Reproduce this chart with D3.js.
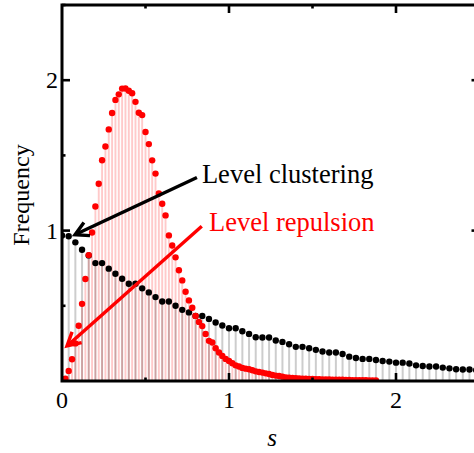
<!DOCTYPE html>
<html>
<head>
<meta charset="utf-8">
<script src="https://cdn.jsdelivr.net/npm/d3@7"></script>
<style>
  html, body { margin: 0; padding: 0; background: #fff; overflow: hidden; }
  svg { display: block; }
</style>
</head>
<body>
<svg id="chart" width="474" height="453"></svg>
<script>
// Nearest-neighbour spacing histogram, uncorrelated levels (black, bin 0.04)
const sPoisson = [0.00,0.04,0.08,0.12,0.16,0.20,0.24,0.28,0.32,0.36,0.40,0.44,0.48,0.52,0.56,0.60,0.64,0.68,0.72,0.76,
  0.80,0.84,0.88,0.92,0.96,1.00,1.04,1.08,1.12,1.16,1.20,1.24,1.28,1.32,1.36,1.40,1.44,1.48,1.52,1.56,1.60,1.64,
  1.68,1.72,1.76,1.80,1.84,1.88,1.92,1.96,2.00,2.04,2.08,2.12,2.16,2.20,2.24,2.28,2.32,2.36,2.40,2.44,2.48];
const freqPoisson = [0.967,0.962,0.922,0.873,0.835,0.784,0.784,0.747,0.713,0.680,0.647,0.647,0.616,0.589,0.558,0.529,0.529,0.500,0.473,0.456,
  0.433,0.433,0.413,0.389,0.369,0.351,0.351,0.331,0.313,0.291,0.289,0.289,0.269,0.260,0.244,0.227,0.227,0.218,0.207,0.196,0.189,0.189,
  0.180,0.162,0.153,0.147,0.147,0.140,0.133,0.129,0.122,0.122,0.116,0.104,0.100,0.096,0.096,0.089,0.084,0.078,0.076,0.076,0.072];

// Spacing histogram, correlated levels (red, bin 0.02)
const sRepel = [0.02,0.04,0.06,0.08,0.10,0.12,0.14,0.16,0.18,0.20,0.22,0.24,0.26,0.28,0.30,0.32,0.34,0.36,0.38,0.40,
  0.42,0.44,0.46,0.48,0.50,0.52,0.54,0.56,0.58,0.60,0.62,0.64,0.66,0.68,0.70,0.72,0.74,0.76,0.78,0.80,
  0.82,0.84,0.86,0.88,0.90,0.92,0.94,0.96,0.98,1.00,1.02,1.04,1.06,1.08,1.10,1.12,1.14,1.16,1.18,1.20,
  1.22,1.24,1.26,1.28,1.30,1.32,1.34,1.36,1.38,1.40,1.42,1.44,1.46,1.48,1.50,1.52,1.54,1.56,1.58,1.60,
  1.62,1.64,1.66,1.68,1.70,1.72,1.74,1.76,1.78,1.80,1.82,1.84,1.86,1.88];
const freqRepel = [0.015,0.067,0.145,0.250,0.367,0.513,0.678,0.837,0.987,1.160,1.312,1.468,1.559,1.673,1.782,1.869,1.906,1.944,1.945,1.930,
  1.913,1.856,1.784,1.768,1.656,1.575,1.467,1.379,1.247,1.179,1.101,0.968,0.901,0.822,0.736,0.669,0.593,0.536,0.487,0.433,
  0.393,0.365,0.313,0.267,0.256,0.218,0.189,0.167,0.147,0.133,0.118,0.104,0.096,0.087,0.082,0.078,0.071,0.064,0.060,0.056,
  0.051,0.047,0.040,0.036,0.033,0.029,0.024,0.022,0.020,0.018,0.017,0.016,0.015,0.014,0.013,0.012,0.012,0.011,0.010,0.010,
  0.009,0.009,0.008,0.008,0.007,0.007,0.006,0.006,0.006,0.005,0.005,0.004,0.004,0.003];

const xMajor = [0, 1, 2];
const xMinor = [0.5, 1.5, 2.5];
const yMajor = [1, 2];
const yMinor = [0.5, 1.5, 2.5];
const xTitle = "s";
const yTitle = "Frequency";

// Annotations: label, colour, text anchor (s, freq), arrow tail and tip (s, freq)
const notes = [
  { label: "Level clustering", color: "#000", at: [0.838, 1.317], from: [0.808, 1.353], to: [0.078, 0.973] },
  { label: "Level repulsion",  color: "#f00", at: [0.880, 0.997], from: [0.837, 1.029], to: [0.030, 0.233] }
];

const FONT = "'Liberation Serif', 'DejaVu Serif', serif";

const svg = d3.select("#chart");
const plotL = 62, plotR = 479.5, plotT = 5, plotB = 381;

const x = d3.scaleLinear().domain([0, 2.5]).range([plotL, plotR]);
const y = d3.scaleLinear().domain([0, 2.5]).range([plotB, plotT]);

svg.append("defs").append("clipPath").attr("id", "plotclip")
  .append("rect").attr("x", plotL).attr("y", plotT).attr("width", plotR - plotL).attr("height", plotB - plotT);

const plot = svg.append("g").attr("clip-path", "url(#plotclip)");

// Stems
const stems = plot.append("g").style("isolation", "isolate");
stems.selectAll("line.repel").data(sRepel).join("line")
  .attr("class", "repel")
  .attr("x1", d => x(d)).attr("x2", d => x(d))
  .attr("y1", y(0)).attr("y2", (d, i) => y(freqRepel[i]))
  .attr("stroke", "#ffcaca").attr("stroke-width", 1.9);
stems.selectAll("line.poisson").data(sPoisson).join("line")
  .attr("class", "poisson")
  .attr("x1", d => x(d)).attr("x2", d => x(d))
  .attr("y1", y(0)).attr("y2", (d, i) => y(freqPoisson[i]))
  .attr("stroke", "#cdcdcd").attr("stroke-width", 2)
  .style("mix-blend-mode", "multiply");

// Points
plot.append("g").selectAll("circle").data(sPoisson).join("circle")
  .attr("cx", d => x(d)).attr("cy", (d, i) => y(freqPoisson[i]))
  .attr("r", 3.2).attr("fill", "#000");
plot.append("g").selectAll("circle").data(sRepel).join("circle")
  .attr("cx", d => x(d)).attr("cy", (d, i) => y(freqRepel[i]))
  .attr("r", 3.2).attr("fill", "#f00");

// Frame with inward ticks on all four sides
const frame = svg.append("g");
frame.append("rect")
  .attr("x", plotL).attr("y", plotT).attr("width", plotR - plotL).attr("height", plotB - plotT)
  .attr("fill", "none").attr("stroke", "#000").attr("stroke-width", 3);

const tickW = 2.6, majorLen = 8, minorLen = 3.5;
function xTicks(vals, len) {
  vals.forEach(v => {
    frame.append("line").attr("x1", x(v)).attr("x2", x(v)).attr("y1", plotB).attr("y2", plotB - len)
      .attr("stroke", "#000").attr("stroke-width", tickW);
    frame.append("line").attr("x1", x(v)).attr("x2", x(v)).attr("y1", plotT).attr("y2", plotT + len)
      .attr("stroke", "#000").attr("stroke-width", tickW);
  });
}
function yTicks(vals, len) {
  vals.forEach(v => {
    frame.append("line").attr("x1", plotL).attr("x2", plotL + len).attr("y1", y(v)).attr("y2", y(v))
      .attr("stroke", "#000").attr("stroke-width", tickW);
    frame.append("line").attr("x1", plotR).attr("x2", plotR - len).attr("y1", y(v)).attr("y2", y(v))
      .attr("stroke", "#000").attr("stroke-width", tickW);
  });
}
xTicks(xMajor.filter(v => v > 0), majorLen);
xTicks(xMinor, minorLen);
yTicks(yMajor, majorLen);
yTicks(yMinor, minorLen);

// Tick labels
svg.append("g").selectAll("text").data(xMajor).join("text")
  .attr("x", d => x(d)).attr("y", 408).attr("font-family", FONT)
  .attr("text-anchor", "middle").attr("font-size", 24).text(d => d);
svg.append("g").selectAll("text").data(yMajor).join("text")
  .attr("x", 58).attr("y", d => y(d) + 8).attr("font-family", FONT)
  .attr("text-anchor", "end").attr("font-size", 24).text(d => d);

// Axis titles
svg.append("text").attr("x", 272).attr("y", 446).attr("font-family", FONT)
  .attr("text-anchor", "middle").attr("font-size", 25).attr("font-style", "italic").text(xTitle);
svg.append("text").attr("transform", "translate(29,195) rotate(-90)").attr("font-family", FONT)
  .attr("text-anchor", "middle").attr("font-size", 24).text(yTitle);

// Annotation arrows with open chevron heads
function arrow(n) {
  const x0 = x(n.from[0]), y0 = y(n.from[1]), x1 = x(n.to[0]), y1 = y(n.to[1]);
  const ang = Math.atan2(y1 - y0, x1 - x0);
  const head = 15, spread = 0.5;
  const g = svg.append("g").attr("stroke", n.color).attr("stroke-width", 3.4)
    .attr("fill", "none").attr("stroke-linecap", "butt").attr("stroke-linejoin", "miter");
  g.append("line").attr("x1", x0).attr("y1", y0).attr("x2", x1 - Math.cos(ang) * 1.5).attr("y2", y1 - Math.sin(ang) * 1.5);
  const p = d3.path();
  p.moveTo(x1 - head * Math.cos(ang - spread), y1 - head * Math.sin(ang - spread));
  p.lineTo(x1, y1);
  p.lineTo(x1 - head * Math.cos(ang + spread), y1 - head * Math.sin(ang + spread));
  g.append("path").attr("d", p.toString());
}
notes.forEach(n => {
  arrow(n);
  svg.append("text").attr("x", x(n.at[0])).attr("y", y(n.at[1])).attr("font-family", FONT)
    .attr("font-size", 26.5).attr("fill", n.color).text(n.label);
});
</script>
</body>
</html>
